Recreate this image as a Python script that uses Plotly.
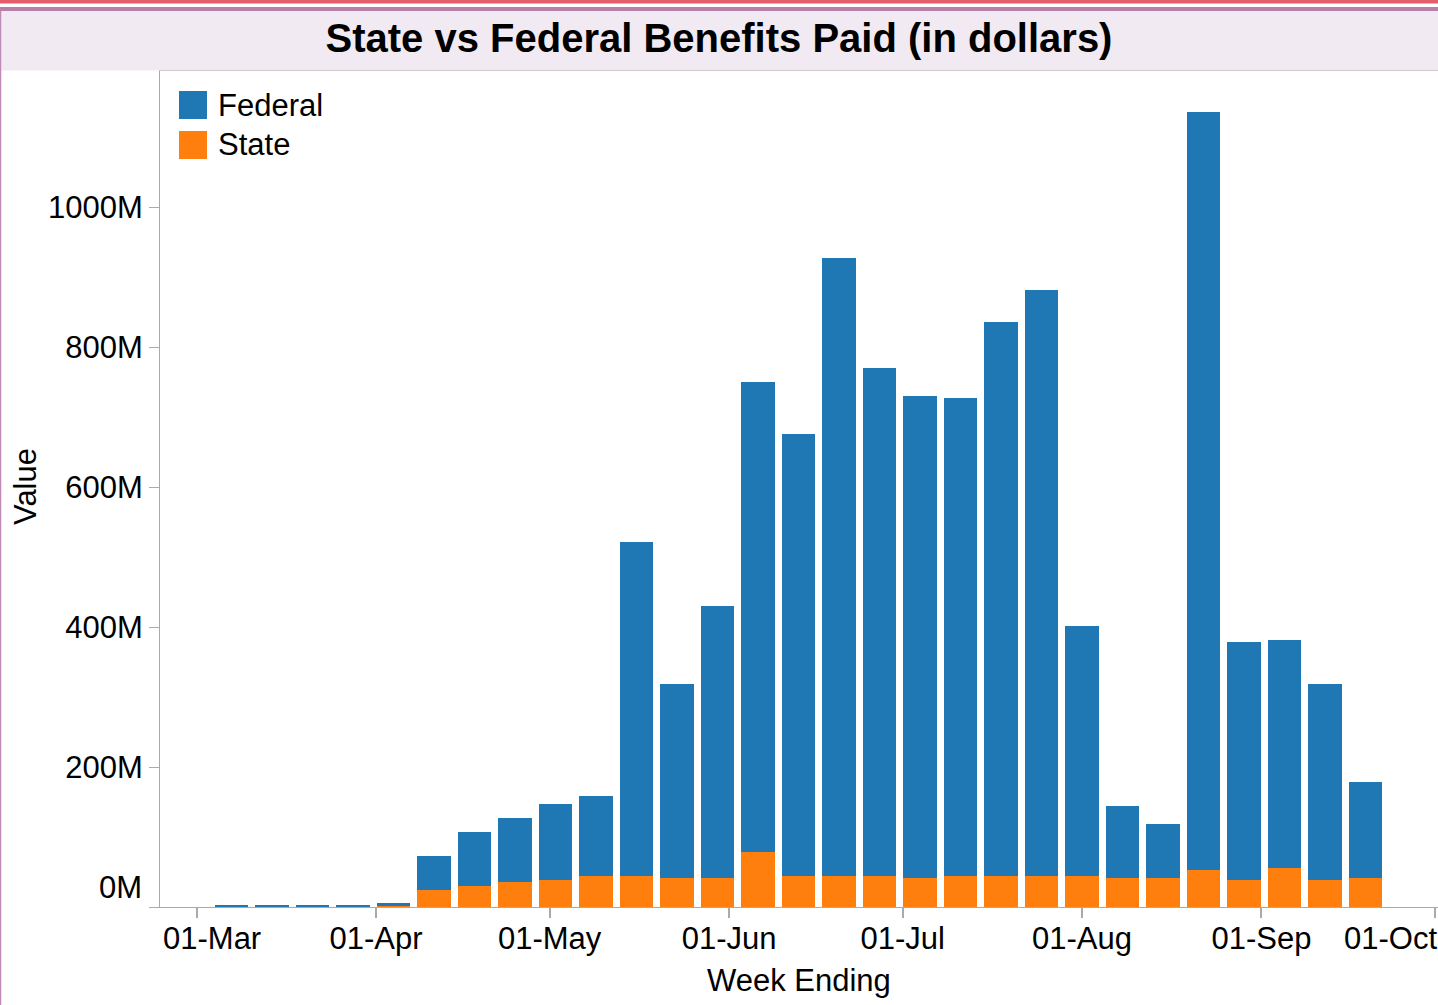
import plotly.graph_objects as go

# ---------------- data ----------------
weeks = ["2020-03-07", "2020-03-14", "2020-03-21", "2020-03-28", "2020-04-04",
         "2020-04-11", "2020-04-18", "2020-04-25", "2020-05-02", "2020-05-09",
         "2020-05-16", "2020-05-23", "2020-05-30", "2020-06-06", "2020-06-13",
         "2020-06-20", "2020-06-27", "2020-07-04", "2020-07-11", "2020-07-18",
         "2020-07-25", "2020-08-01", "2020-08-08", "2020-08-15", "2020-08-22",
         "2020-08-29", "2020-09-05", "2020-09-12", "2020-09-19"]

# millions of dollars
federal_m = [2.0, 2.0, 2.0, 2.0, 3.2,
             48.6, 77.2, 91.5, 108.6, 114.3,
             477.2, 277.1, 388.5, 671.4, 631.4,
             882.9, 725.7, 688.5, 682.9, 791.4,
             837.2, 357.2, 102.8, 77.1, 1082.8,
             340.0, 325.8, 280.0, 137.1]
state_m = [0.0, 0.0, 0.0, 0.0, 1.9,
           24.7, 30.4, 36.1, 39.0, 44.7,
           44.7, 41.9, 41.9, 79.0, 44.7,
           44.7, 44.7, 41.9, 44.7, 44.7,
           44.7, 44.7, 41.9, 41.9, 53.3,
           39.0, 56.1, 39.0, 41.9]

federal = [v * 1e6 for v in federal_m]
state = [v * 1e6 for v in state_m]

x_tick_vals = ["2020-03-01", "2020-04-01", "2020-05-01", "2020-06-01",
               "2020-07-01", "2020-08-01", "2020-09-01", "2020-10-01"]
x_tick_text = ["01-Mar", "01-Apr", "01-May", "01-Jun",
               "01-Jul", "01-Aug", "01-Sep", "01-Oct"]
y_tick_vals = [0, 200e6, 400e6, 600e6, 800e6, 1000e6]
y_tick_text = ["0M", "200M", "400M", "600M", "800M", "1000M"]

# ---------------- layout helpers ----------------
W, H = 1438, 1005
ML, MR, MT, MB = 160, 0, 71, 98
PW, PH = W - ML - MR, H - MT - MB
FONT = "Liberation Sans, Arial, Helvetica, sans-serif"
BLUE, ORANGE = "#1f77b4", "#ff7f0e"
GREY = "#aaaaaa"
FS = 31


def px(x):
    return (x - ML) / PW


def py(y):
    return (H - MB - y) / PH


DAY_MS = 86400000
bar_width = 5.82 * DAY_MS

fig = go.Figure()
fig.add_trace(go.Bar(x=weeks, y=state, name="State", marker_color=ORANGE,
                     marker_line_width=0, width=bar_width, showlegend=False))
fig.add_trace(go.Bar(x=weeks, y=federal, name="Federal", marker_color=BLUE,
                     marker_line_width=0, width=bar_width, showlegend=False))

shapes = [
    # red top line
    dict(type="rect", xref="paper", yref="paper", x0=px(0), x1=px(W), y0=py(0), y1=py(3.5),
         fillcolor="#e35d6a", line_width=0, layer="above"),
    # purple line
    dict(type="rect", xref="paper", yref="paper", x0=px(0), x1=px(W), y0=py(7), y1=py(11),
         fillcolor="#b97fab", line_width=0, layer="above"),
    # title band
    dict(type="rect", xref="paper", yref="paper", x0=px(1), x1=px(W), y0=py(11), y1=py(70.5),
         fillcolor="#f2eaf2", line_width=0, layer="above"),
    # left border
    dict(type="line", xref="paper", yref="paper", x0=px(0.5), x1=px(0.5), y0=py(11), y1=py(H),
         line=dict(color="#c08ab6", width=1.5), layer="above"),
    # legend swatches
    dict(type="rect", xref="paper", yref="paper", x0=px(179), x1=px(207), y0=py(91), y1=py(119),
         fillcolor=BLUE, line_width=0, layer="above"),
    dict(type="rect", xref="paper", yref="paper", x0=px(179), x1=px(207), y0=py(131), y1=py(159),
         fillcolor=ORANGE, line_width=0, layer="above"),
]

annotations = [
    dict(text="Federal", xref="paper", yref="paper", x=px(216), y=py(105), xanchor="left",
         yanchor="middle", showarrow=False, font=dict(size=FS, color="black", family=FONT)),
    dict(text="State", xref="paper", yref="paper", x=px(216), y=py(145), xanchor="left",
         yanchor="middle", showarrow=False, font=dict(size=FS, color="black", family=FONT)),
    # flush first / last x labels and bottom y label
    dict(text=x_tick_text[0], xref="paper", yref="paper", x=px(212), y=py(938), xanchor="center",
         yanchor="middle", showarrow=False, font=dict(size=FS, color="black", family=FONT)),
    dict(text=x_tick_text[-1], xref="paper", yref="paper", x=px(1439), y=py(938), xanchor="right",
         yanchor="middle", showarrow=False, font=dict(size=FS, color="black", family=FONT)),
    dict(text=y_tick_text[0], xref="paper", yref="paper", x=px(144), y=py(887), xanchor="right",
         yanchor="middle", showarrow=False, font=dict(size=FS, color="black", family=FONT)),
    # axis titles
    dict(text="Week Ending", xref="paper", yref="paper", x=px(799), y=py(980), xanchor="center",
         yanchor="middle", showarrow=False, font=dict(size=FS, color="black", family=FONT)),
    dict(text="Value", xref="paper", yref="paper", x=px(25), y=py(487), xanchor="center",
         yanchor="middle", textangle=-90, showarrow=False,
         font=dict(size=FS, color="black", family=FONT)),
]

fig.update_layout(
    width=W, height=H,
    margin=dict(l=ML, r=MR, t=MT, b=MB, pad=0),
    barmode="stack",
    paper_bgcolor="white", plot_bgcolor="white",
    font=dict(family=FONT, size=FS, color="black"),
    title=dict(text="<b>State vs Federal Benefits Paid (in dollars)</b>",
               x=0.5, xanchor="center", xref="container",
               y=1 - 38 / H, yanchor="middle", yref="container",
               font=dict(size=40, color="black", family=FONT)),
    showlegend=False,
    shapes=shapes,
    annotations=annotations,
    bargap=0,
)

fig.update_xaxes(
    type="date",
    range=["2020-02-23 15:48", "2020-10-01 12:26"],
    tickvals=x_tick_vals,
    ticktext=[""] + x_tick_text[1:-1] + [""],
    ticks="outside", ticklen=10, tickwidth=1.5, tickcolor=GREY,
    ticklabelstandoff=-6,
    showline=True, linecolor=GREY, linewidth=1.2, mirror=True,
    showgrid=False, zeroline=False,
    tickfont=dict(size=FS, color="black", family=FONT),
)
fig.update_yaxes(
    range=[0, PH / 0.7 * 1e6],
    tickvals=y_tick_vals,
    ticktext=[""] + y_tick_text[1:],
    ticks="outside", ticklen=10, tickwidth=1, tickcolor=GREY,
    showline=True, linecolor=GREY, linewidth=1,
    showgrid=False, zeroline=False,
    tickfont=dict(size=FS, color="black", family=FONT),
)

fig.write_html("out.html", config={"displayModeBar": False},
               post_script="document.body.style.margin='0';document.body.style.overflow='hidden';")
